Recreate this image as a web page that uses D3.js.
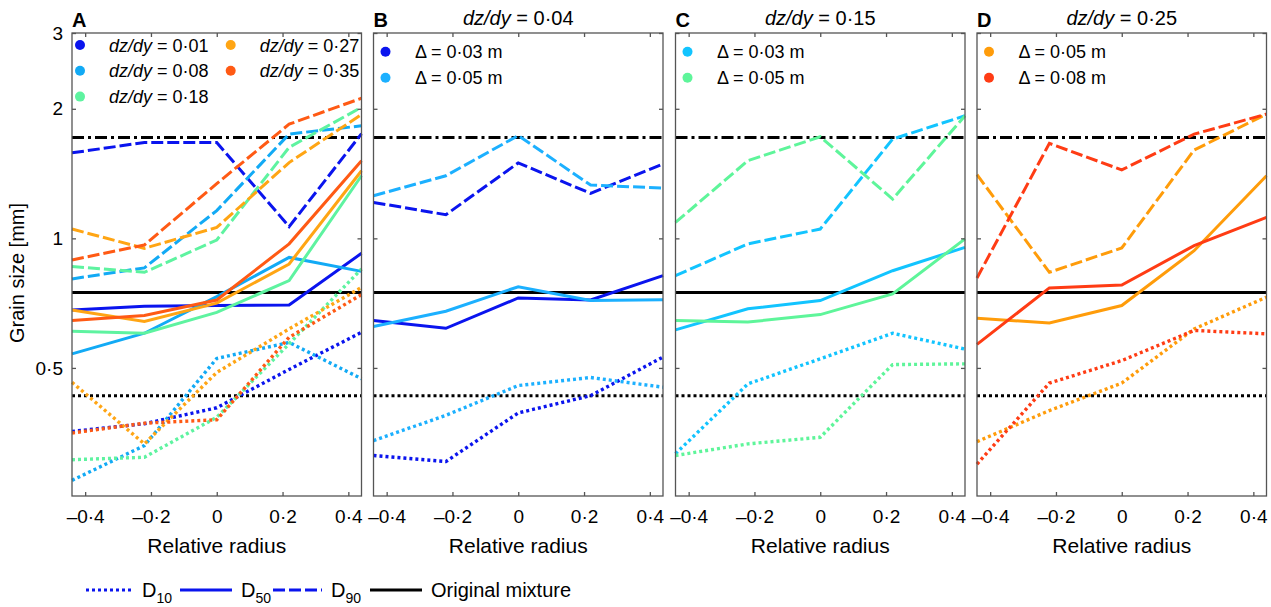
<!DOCTYPE html>
<html>
<head>
<meta charset="utf-8">
<script src="https://cdn.jsdelivr.net/npm/d3@7"></script>
<style>
  body { margin: 0; background: #fff; }
  svg { font-family: "Liberation Sans", Arial, sans-serif; }
</style>
</head>
<body>
<svg id="chart" width="1271" height="607"></svg>
<script>
// relative radius of the sampling points
const xPos = [-0.44, -0.22, 0, 0.22, 0.44];
const xTicks = [-0.4, -0.2, 0, 0.2, 0.4];
const yTicks = [0.5, 1, 2, 3];

// original mixture D10, D50, D90 [mm]
const mixture = [0.431, 0.749, 1.716];

// panel A: dz/dy = 0.01, 0.08, 0.18, 0.27, 0.35
const slopesA = ["0·01", "0·08", "0·18", "0·27", "0·35"];
const colorsA = ["#0a14ee", "#12aaf5", "#5ef3a0", "#ffa514", "#ff5a14"];
const panelA_D10 = [
  [0.356, 0.371, 0.404, 0.496, 0.605],
  [0.274, 0.330, 0.526, 0.573, 0.472],
  [0.306, 0.310, 0.384, 0.569, 0.849],
  [0.463, 0.333, 0.488, 0.616, 0.769],
  [0.353, 0.372, 0.379, 0.589, 0.740]
];
const panelA_D50 = [
  [0.682, 0.695, 0.698, 0.700, 0.923],
  [0.539, 0.602, 0.732, 0.903, 0.838],
  [0.608, 0.602, 0.673, 0.798, 1.398],
  [0.682, 0.641, 0.707, 0.872, 1.436],
  [0.644, 0.662, 0.719, 0.971, 1.515]
];
const panelA_D90 = [
  [1.58, 1.67, 1.67, 1.065, 1.75],
  [0.805, 0.854, 1.16, 1.747, 1.826],
  [0.86, 0.834, 0.991, 1.627, 2.016],
  [1.051, 0.948, 1.06, 1.5, 1.94],
  [0.891, 0.965, 1.34, 1.842, 2.116]
];

// panel B: dz/dy = 0.04
const deltasB = ["0·03", "0·05"];
const colorsB = ["#0a14ee", "#1cb0ff"];
const panelB_D10 = [[0.313, 0.303, 0.393, 0.431, 0.530], [0.339, 0.388, 0.455, 0.475, 0.451]];
const panelB_D50 = [[0.644, 0.618, 0.727, 0.719, 0.819], [0.624, 0.677, 0.772, 0.717, 0.720]];
const panelB_D90 = [[1.212, 1.135, 1.497, 1.272, 1.488], [1.256, 1.398, 1.733, 1.330, 1.309]];

// panel C: dz/dy = 0.15
const deltasC = ["0·03", "0·05"];
const colorsC = ["#12c4ff", "#5ef59a"];
const panelC_D10 = [[0.316, 0.459, 0.525, 0.602, 0.553], [0.313, 0.333, 0.345, 0.509, 0.511]];
const panelC_D50 = [[0.613, 0.686, 0.717, 0.841, 0.953], [0.644, 0.639, 0.665, 0.743, 0.997]];
const panelC_D90 = [[0.819, 0.971, 1.051, 1.701, 1.927], [1.089, 1.515, 1.722, 1.234, 1.927]];

// panel D: dz/dy = 0.25
const deltasD = ["0·05", "0·08"];
const colorsD = ["#ff9c0a", "#ff3c14"];
const panelD_D10 = [[0.337, 0.398, 0.461, 0.616, 0.730], [0.299, 0.461, 0.520, 0.611, 0.600]];
const panelD_D50 = [[0.652, 0.636, 0.698, 0.936, 1.398], [0.567, 0.767, 0.779, 0.962, 1.119]];
const panelD_D90 = [[1.406, 0.834, 0.950, 1.604, 1.944], [0.809, 1.662, 1.442, 1.746, 1.944]];

const svg = d3.select("#chart");
const plotTop = 33, plotBottom = 496, panelW = 289.5;
const panelX = [72, 373.5, 675.5, 977];

const dash = { d10: "3,3", d50: null, d90: "12,4" };
const fmt = v => String(v).replace("-", "–").replace(".", "·");

const y = d3.scaleLog().domain([0.252, 3]).range([plotBottom, plotTop]);

const panels = [
  { letter: "A", title: null, d10: panelA_D10, d50: panelA_D50, d90: panelA_D90, colors: colorsA },
  { letter: "B", title: "0·04", d10: panelB_D10, d50: panelB_D50, d90: panelB_D90, colors: colorsB, labels: deltasB },
  { letter: "C", title: "0·15", d10: panelC_D10, d50: panelC_D50, d90: panelC_D90, colors: colorsC, labels: deltasC },
  { letter: "D", title: "0·25", d10: panelD_D10, d50: panelD_D50, d90: panelD_D90, colors: colorsD, labels: deltasD }
];

panels.forEach((p, i) => {
  const x0 = panelX[i];
  const x = d3.scaleLinear().domain([-0.44, 0.44]).range([x0, x0 + panelW]);
  const g = svg.append("g");

  // original mixture reference lines
  const refDash = ["3,3", null, "12,4,3,4"];
  mixture.forEach((m, k) => {
    g.append("line")
      .attr("x1", x0).attr("x2", x0 + panelW)
      .attr("y1", y(m)).attr("y2", y(m))
      .attr("stroke", "#000").attr("stroke-width", 3)
      .attr("stroke-dasharray", refDash[k]);
  });

  const line = d3.line().x((d, j) => x(xPos[j])).y(d => y(d));
  ["d90", "d50", "d10"].forEach(key => {
    p[key].forEach((vals, s) => {
      g.append("path")
        .attr("d", line(vals))
        .attr("fill", "none")
        .attr("stroke", p.colors[s])
        .attr("stroke-width", key === "d10" ? 3.4 : 3)
        .attr("stroke-dasharray", dash[key]);
    });
  });

  // axes with inward ticks
  const ax = g.append("g").attr("class", "axes");
  ax.append("g").attr("transform", `translate(0,${plotBottom})`)
    .call(d3.axisBottom(x).tickValues(xTicks).tickSizeInner(-4).tickSizeOuter(0).tickPadding(14).tickFormat(fmt));
  ax.append("g").attr("transform", `translate(0,${plotTop})`)
    .call(d3.axisTop(x).tickValues(xTicks).tickSizeInner(-4).tickSizeOuter(0).tickFormat(""));
  ax.append("g").attr("transform", `translate(${x0},0)`)
    .call(d3.axisLeft(y).tickValues(yTicks).tickSizeInner(-4).tickSizeOuter(0).tickPadding(9)
      .tickFormat(i === 0 ? fmt : ""));
  ax.append("g").attr("transform", `translate(${x0 + panelW},0)`)
    .call(d3.axisRight(y).tickValues(yTicks).tickSizeInner(-4).tickSizeOuter(0).tickFormat(""));
  ax.selectAll(".domain").remove();
  ax.selectAll(".tick line").attr("stroke", "#555").attr("stroke-width", 1.3);
  ax.selectAll(".tick text").attr("fill", "#000").style("font-size", "19px")
    .style("font-family", "'Liberation Sans', Arial, sans-serif");

  g.append("rect")
    .attr("x", x0).attr("y", plotTop).attr("width", panelW).attr("height", plotBottom - plotTop)
    .attr("fill", "none").attr("stroke", "#555").attr("stroke-width", 1.3);

  // panel letter and title
  g.append("text").attr("x", x0).attr("y", 27)
    .style("font-size", "20px").style("font-weight", "bold").text(p.letter);
  if (p.title) {
    const t = g.append("text").attr("x", x0 + panelW / 2).attr("y", 25)
      .attr("text-anchor", "middle").style("font-size", "20px");
    t.append("tspan").style("font-style", "italic").text("dz/dy");
    t.append("tspan").text(" = " + p.title);
  }

  g.append("text").attr("x", x0 + panelW / 2).attr("y", 553)
    .attr("text-anchor", "middle").style("font-size", "21px").text("Relative radius");

  // in-panel legends
  if (i === 0) {
    slopesA.forEach((s, k) => {
      const col = k < 3 ? 0 : 1, row = k < 3 ? k : k - 3;
      const lx = col === 0 ? 80 : 230.7, ly = 45 + row * 25.8;
      g.append("circle").attr("cx", lx).attr("cy", ly).attr("r", 5).attr("fill", colorsA[k]);
      const t = g.append("text").attr("x", lx + 29).attr("y", ly + 6.5).style("font-size", "18px");
      t.append("tspan").style("font-style", "italic").text("dz/dy");
      t.append("tspan").text(" = " + s);
    });
  } else {
    p.labels.forEach((s, k) => {
      const lx = x0 + 12, ly = 51.7 + k * 26;
      g.append("circle").attr("cx", lx).attr("cy", ly).attr("r", 5).attr("fill", p.colors[k]);
      g.append("text").attr("x", lx + 29.5).attr("y", ly + 6.5).style("font-size", "18px")
        .text("Δ = " + s + " m");
    });
  }
});

// y axis title
svg.append("text")
  .attr("transform", "translate(24,273) rotate(-90)")
  .attr("text-anchor", "middle").style("font-size", "20px").text("Grain size [mm]");

// bottom legend
const legY = 590;
const legItems = [
  { x1: 86, x2: 133, dash: dash.d10, color: "#0a14ee", sub: "10" },
  { x1: 180, x2: 232, dash: dash.d50, color: "#0a14ee", sub: "50" },
  { x1: 273, x2: 322, dash: dash.d90, color: "#0a14ee", sub: "90" },
  { x1: 370, x2: 422, dash: null, color: "#000", label: "Original mixture" }
];
legItems.forEach(it => {
  svg.append("line").attr("x1", it.x1).attr("x2", it.x2).attr("y1", legY).attr("y2", legY)
    .attr("stroke", it.color).attr("stroke-width", 3).attr("stroke-dasharray", it.dash);
  const t = svg.append("text").attr("x", it.x2 + 9).attr("y", legY + 7).style("font-size", "20px");
  if (it.sub) {
    t.append("tspan").text("D");
    t.append("tspan").attr("dy", 6).style("font-size", "14px").text(it.sub);
  } else {
    t.text(it.label);
  }
});
</script>
</body>
</html>
